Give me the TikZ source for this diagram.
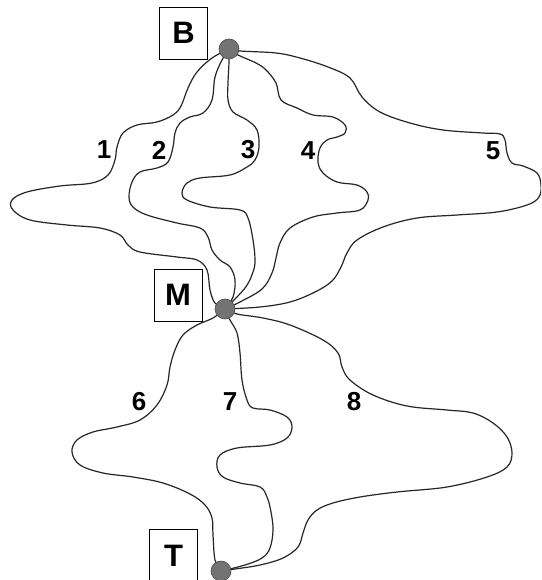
\documentclass[tikz,border=0pt]{standalone}
\usepackage{fontspec}
\setmainfont{Liberation Sans}
\begin{document}
\begin{tikzpicture}[x=1pt,y=-1pt,
  route/.style={draw=black!85, line width=1.2pt, smooth, tension=0.6},
  hub/.style={circle, fill=black!55, draw=black!70, line width=0.6pt, minimum size=20pt, inner sep=0pt},
  tag/.style={draw=black, line width=0.9pt, minimum width=48pt, minimum height=52pt, inner sep=0pt,
              font=\fontsize{31}{31}\selectfont\bfseries},
  num/.style={font=\fontsize{26}{26}\selectfont\bfseries, inner sep=0pt}]
\clip (0,0) rectangle (541,580);
\fill[white] (0,0) rectangle (541,580);

% labelled boxes
\node[tag] (boxB) at (183.5,33) {B};
\node[tag] (boxM) at (178,295) {M};
\node[tag, minimum height=54pt] (boxT) at (173.5,556) {T};

% junction points
\coordinate (b) at (229,49);
\coordinate (m) at (225,309);
\coordinate (t) at (221,571);

% routes B -> M
\draw[route] plot coordinates {(b) (212,58) (197,72) (188,88) (181,106) (173,115) (157,122) (137,125) (123,133) (117,147) (115,160) (108,175) (92,183) (60,186) (27,192) (12,200) (13,210) (30,220) (67,225) (100,228) (120,235) (128,245) (140,252) (177,257) (197,260) (207,270) (210,290) (215,303) (m)};
\draw[route] plot coordinates {(b) (222,60) (215,77) (212,100) (203,113) (190,117) (180,123) (175,133) (173,147) (168,162) (157,168) (140,172) (132,182) (129,197) (133,207) (147,215) (177,223) (200,228) (208,237) (212,250) (220,260) (230,267) (235,280) (233,297) (m)};
\draw[route] plot coordinates {(b) (229,62) (228,83) (228,100) (233,112) (247,120) (257,130) (259,147) (255,160) (247,167) (230,175) (200,178) (187,183) (182,193) (187,200) (210,207) (240,210) (248,218) (253,240) (255,260) (253,272) (245,288) (m)};
\draw[route] plot coordinates {(b) (238,55) (256,63) (266,70) (276,83) (281,100) (297,108) (313,115) (333,117) (345,125) (345,133) (337,137) (327,140) (320,148) (318,162) (323,173) (337,182) (357,185) (367,192) (368,200) (360,210) (337,213) (313,217) (290,228) (280,243) (276,258) (272,273) (262,289) (240,302) (m)};
\draw[route] plot coordinates {(b) (240,51) (276,53) (300,58) (328,67) (350,78) (362,97) (380,112) (410,123) (443,130) (483,133) (500,134) (505,140) (507,153) (512,163) (523,166) (537,173) (541,185) (539,197) (527,205) (497,212) (457,215) (417,218) (383,227) (357,240) (347,253) (341,267) (332,281) (315,292) (290,302) (260,307) (m)};

% routes M -> T
\draw[route] plot coordinates {(m) (213,318) (197,325) (183,335) (175,350) (170,367) (167,385) (157,405) (140,420) (117,427) (93,432) (77,440) (72,452) (80,465) (103,473) (133,477) (163,483) (190,494) (205,505) (212,518) (213,535) (215,560) (t)};
\draw[route] plot coordinates {(m) (230,320) (237,333) (240,353) (242,380) (247,400) (253,408) (270,410) (287,417) (292,427) (287,438) (270,445) (237,448) (220,455) (217,467) (223,477) (240,483) (260,487) (267,497) (271,512) (273,530) (270,548) (262,558) (245,565) (t)};
\draw[route] plot coordinates {(m) (237,314) (263,318) (290,325) (323,340) (338,353) (342,367) (350,380) (373,395) (407,406) (447,410) (473,413) (493,423) (507,437) (512,453) (507,467) (487,477) (447,487) (397,492) (360,497) (333,503) (317,510) (308,520) (303,533) (298,547) (283,558) (260,565) (235,569) (t)};

% junction dots
\node[hub] (dotB) at (b) {};
\node[hub] (dotM) at (m) {};
\node[hub] (dotT) at (t) {};

% route numbers
\node[num] (n1) at (104,150) {1};
\node[num] (n2) at (159,150) {2};
\node[num] (n3) at (248,150) {3};
\node[num] (n4) at (308,151) {4};
\node[num] (n5) at (493,151) {5};
\node[num] (n6) at (139,402) {6};
\node[num] (n7) at (230,402) {7};
\node[num] (n8) at (354,402) {8};
\end{tikzpicture}
\end{document}
